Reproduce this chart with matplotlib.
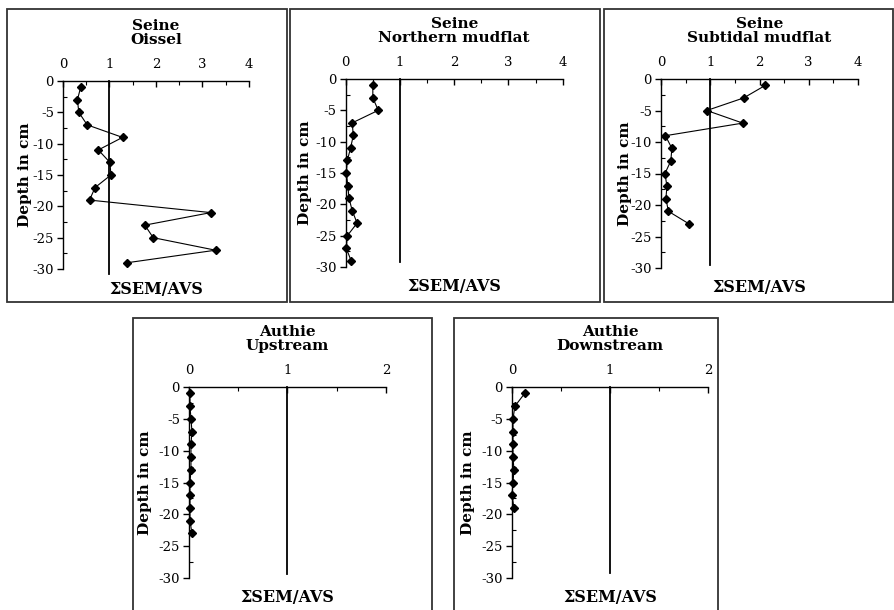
import matplotlib
matplotlib.use("Agg")
import matplotlib.pyplot as plt
from matplotlib.patches import Rectangle
from matplotlib.ticker import MultipleLocator, FormatStrFormatter

plt.rcParams["font.family"] = ["DejaVu Serif"]
plt.rcParams["axes.unicode_minus"] = False

# Sampling depths (cm) and SEM/AVS ratios per site
depth_seine = [-1, -3, -5, -7, -9, -11, -13, -15, -17, -19, -21, -23, -25, -27, -29]
oissel = [0.38, 0.31, 0.34, 0.52, 1.28, 0.76, 1.01, 1.03, 0.69, 0.57, 3.18, 1.76, 1.94, 3.28, 1.38]
northern = [0.50, 0.50, 0.60, 0.12, 0.14, 0.09, 0.03, 0.01, 0.04, 0.06, 0.12, 0.21, 0.03, 0.01, 0.10]

depth_subtidal = [-1, -3, -5, -7, -9, -11, -13, -15, -17, -19, -21, -23]
subtidal = [2.12, 1.68, 0.93, 1.66, 0.09, 0.22, 0.20, 0.08, 0.12, 0.10, 0.15, 0.57]

depth_upstream = [-1, -3, -5, -7, -9, -11, -13, -15, -17, -19, -21, -23]
upstream = [0.01, 0.01, 0.02, 0.03, 0.02, 0.02, 0.02, 0.01, 0.01, 0.01, 0.01, 0.03]

depth_downstream = [-1, -3, -5, -7, -9, -11, -13, -15, -17, -19]
downstream = [0.13, 0.03, 0.01, 0.01, 0.01, 0.01, 0.02, 0.01, 0.00, 0.02]

titles = ["Seine\nOissel", "Seine\nNorthern mudflat", "Seine\nSubtidal mudflat",
          "Authie\nUpstream", "Authie\nDownstream"]
x_max = [4, 4, 4, 2, 2]
threshold = 1.0
threshold_bottom = [-30.8, -29.2, -29.5, -29.4, -29.2]

series = [(depth_seine, oissel), (depth_seine, northern), (depth_subtidal, subtidal),
          (depth_upstream, upstream), (depth_downstream, downstream)]

W, H = 895, 610
fig = plt.figure(figsize=(W / 100, H / 100), dpi=100)

# layout in pixels: axes (x0, x1, top, bottom), frame (x0, y0, x1, y1), ylabel offset
axes_px = [(63, 249, 81, 269), (345.7, 562.7, 79, 267), (661, 858, 79, 268),
           (189, 386, 387, 578), (512, 708, 387, 578)]
frames_px = [(7, 9, 287, 302), (290, 9, 600, 302), (604, 9, 893, 302),
             (133, 318, 432, 613), (454, 318, 718, 613)]
ylab_off = [38, 41, 36, 44, 44]


def fx(x):
    return x / W


def fy(y):
    return 1 - y / H


for (fx0, fy0, fx1, fy1) in frames_px:
    fig.add_artist(Rectangle((fx(fx0), fy(fy1)), fx(fx1 - fx0), (fy1 - fy0) / H,
                             transform=fig.transFigure, fill=False,
                             edgecolor="#333333", linewidth=1.3, clip_on=False))

for i, ((x0, x1, top, bot), (d, v)) in enumerate(zip(axes_px, series)):
    ax = fig.add_axes([fx(x0), fy(bot), fx(x1 - x0), (bot - top) / H])
    ax.set_xlim(0, x_max[i])
    ax.set_ylim(-30, 0)
    ax.patch.set_visible(False)
    for s in ("right", "bottom"):
        ax.spines[s].set_visible(False)
    for s in ("top", "left"):
        ax.spines[s].set_linewidth(1.0)
    ax.xaxis.tick_top()
    ax.xaxis.set_major_locator(MultipleLocator(1))
    ax.xaxis.set_minor_locator(MultipleLocator(0.5))
    ax.yaxis.set_major_locator(MultipleLocator(5))
    ax.yaxis.set_minor_locator(MultipleLocator(2.5))
    ax.xaxis.set_major_formatter(FormatStrFormatter("%d"))
    ax.yaxis.set_major_formatter(FormatStrFormatter("%d"))
    ax.tick_params(axis="x", which="major", direction="in", length=4, width=1,
                   pad=7, labelsize=9.5)
    ax.tick_params(axis="x", which="minor", direction="in", length=3, width=0.8)
    ax.tick_params(axis="y", which="major", direction="out", length=4, width=1,
                   pad=2.5, labelsize=9.5)
    ax.tick_params(axis="y", which="minor", direction="in", length=3, width=0.8)

    ax.plot([threshold, threshold], [0, threshold_bottom[i]], color="black",
            linewidth=1.3, clip_on=False)
    ax.plot(v, d, color="black", linewidth=0.8, marker="D", markersize=4.5,
            clip_on=False)

    cx = (x0 + x1) / 2
    fig.text(fx(cx), fy(top - 48), titles[i], ha="center", va="center",
             fontsize=11, fontweight="bold", linespacing=1.05)
    fig.text(fx(cx), fy(bot + 20), "\u03a3SEM/AVS", ha="center", va="center",
             fontsize=11.5, fontweight="bold")
    fig.text(fx(x0 - ylab_off[i]), fy((top + bot) / 2), "Depth in cm",
             ha="center", va="center", rotation=90, fontsize=11,
             fontweight="bold")

fig.savefig("out.png", dpi=100)
